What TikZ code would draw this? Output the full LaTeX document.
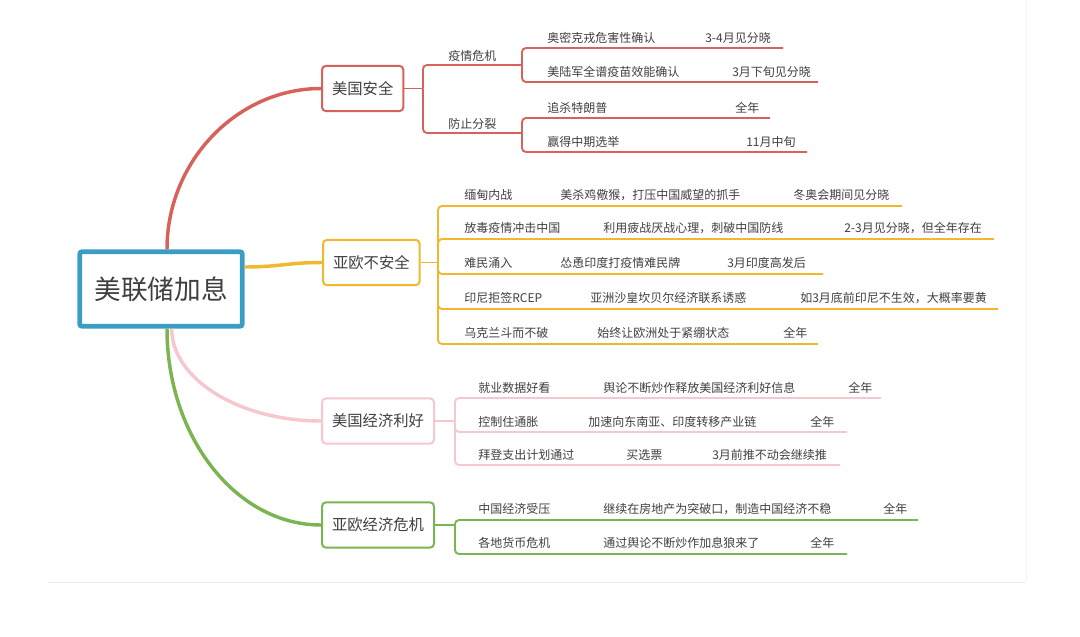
\documentclass[tikz,border=0pt]{standalone}
\usepackage{fontspec}
\setmainfont{Noto Sans CJK SC}
\usepackage{xcolor}
\usepackage{tikz}
\usetikzlibrary{positioning}

\definecolor{hubblue}{HTML}{3A9DC3}
\definecolor{redbr}{HTML}{D6625C}
\definecolor{goldbr}{HTML}{F1B82D}
\definecolor{pinkbr}{HTML}{F5C8CE}
\definecolor{greenbr}{HTML}{7BB552}
\definecolor{txtgray}{HTML}{3F3F3F}

\begin{document}
\begin{tikzpicture}[
  x=0.75pt,
  y=-0.75pt,
  hub/.style={draw=hubblue, line width=3.6pt, rounded corners=2pt, fill=white,
    minimum width=122pt, minimum height=56pt, text=txtgray,
    font=\fontsize{20}{24}\selectfont},
  topic/.style={draw=#1, line width=1.5pt, rounded corners=3pt, fill=white,
    minimum height=34pt, inner xsep=7.5pt, anchor=west, text=txtgray,
    font=\fontsize{11.5}{13}\selectfont},
  leaf/.style={anchor=west, inner sep=0pt, text height=0.88em, text depth=0.12em,
    text=txtgray, font=\fontsize{9}{11}\selectfont},
  branch/.style={draw=#1, line width=2.6pt},
  twig/.style={draw=#1, line width=1.4pt, rounded corners=3pt},
  card/.style={draw=gray!14, line width=0.75pt}
]
  \useasboundingbox (0,0) rectangle (1080,636);
  \draw[card] (48,582) -- (1026,582);
  \draw[card, draw=gray!7] (1026,0) -- (1026,582);

  \node[hub] (hub) at (161,289) {美联储加息};
  \node[topic=redbr] (safe) at (321,88.5) {美国安全};
  \node[topic=goldbr] (unsafe) at (322,262.5) {亚欧不安全};
  \node[topic=pinkbr] (econ) at (321,421) {美国经济利好};
  \node[topic=greenbr] (crisis) at (321,525) {亚欧经济危机};

  \draw[branch=redbr] ([xshift=4.5pt]hub.north) .. controls +(0,-88) and +(-84,0) .. (safe.west);
  \draw[branch=goldbr] ([yshift=16.5pt]hub.east) .. controls +(35,0) and +(-35,0) .. (unsafe.west);
  \draw[branch=pinkbr] ([xshift=8pt]hub.south) .. controls +(0,50) and +(-82,0) .. (econ.west);
  \draw[branch=greenbr] ([xshift=4.5pt]hub.south) .. controls +(0,108) and +(-85,0) .. (crisis.west);

  \coordinate (sj) at (423,88.5);
  \coordinate (sa) at (522,65);
  \coordinate (sb) at (522,133);
  \draw[twig=redbr] (safe.east) -- (sj);
  \draw[twig=redbr] (sj) |- (sa);
  \draw[twig=redbr] (sj) |- (sb);
  \node[leaf] (epid) at (448,55) {疫情危机};
  \node[leaf] (split) at (448,123) {防止分裂};
  \foreach \yl/\ka/\xc/\kc/\xe/\jn [count=\i] in {
    48/奥密克戎危害性确认/705/3-4月见分晓/783/sa,
    82/美陆军全谱疫苗效能确认/732/3月下旬见分晓/818/sa,
    118/追杀特朗普/735/全年/770/sb,
    152/赢得中期选举/746/11月中旬/807/sb} {
    \coordinate (s\i) at (\xe,\yl);
    \draw[twig=redbr] (\jn) |- (s\i);
    \node[leaf] (sx\i) at (547,\yl-11) {\ka};
    \node[leaf] (sy\i) at (\xc,\yl-11) {\kc};
  }

  \coordinate (uj) at (438,262.5);
  \draw[twig=goldbr] (unsafe.east) -- (uj);
  \foreach \yl/\ka/\xb/\kb/\xc/\kc/\xe [count=\i] in {
    206/缅甸内战/560/美杀鸡儆猴，打压中国威望的抓手/793/冬奥会期间见分晓/902,
    239/放毒疫情冲击中国/603/利用疲战厌战心理，刺破中国防线/844/2-3月见分晓，但全年存在/994,
    274/难民涌入/560/怂恿印度打疫情难民牌/727/3月印度高发后/823,
    309/印尼拒签RCEP/590/亚洲沙皇坎贝尔经济联系诱惑/800/如3月底前印尼不生效，大概率要黄/998,
    344/乌克兰斗而不破/597/始终让欧洲处于紧绷状态/783/全年/818} {
    \coordinate (u\i) at (\xe,\yl);
    \draw[twig=goldbr] (uj) |- (u\i);
    \node[leaf] (ua\i) at (464,\yl-12) {\ka};
    \node[leaf] (ub\i) at (\xb,\yl-12) {\kb};
    \node[leaf] (uc\i) at (\xc,\yl-12) {\kc};
  }

  \coordinate (ej) at (455,421);
  \draw[twig=pinkbr] (econ.east) -- (ej);
  \foreach \yl/\ka/\xb/\kb/\xc/\kc/\xe [count=\i] in {
    398/就业数据好看/603/舆论不断炒作释放美国经济利好信息/848/全年/881,
    432/控制住通胀/588/加速向东南亚、印度转移产业链/810/全年/847,
    465/拜登支出计划通过/626/买选票/712/3月前推不动会继续推/840} {
    \coordinate (e\i) at (\xe,\yl);
    \draw[twig=pinkbr] (ej) |- (e\i);
    \node[leaf] (ea\i) at (478,\yl-11) {\ka};
    \node[leaf] (eb\i) at (\xb,\yl-11) {\kb};
    \node[leaf] (ec\i) at (\xc,\yl-11) {\kc};
  }

  \coordinate (cj) at (455,525);
  \draw[twig=greenbr] (crisis.east) -- (cj);
  \foreach \yl/\ka/\xb/\kb/\xc/\kc/\xe [count=\i] in {
    520/中国经济受压/603/继续在房地产为突破口，制造中国经济不稳/883/全年/918,
    554/各地货币危机/603/通过舆论不断炒作加息狼来了/810/全年/847} {
    \coordinate (c\i) at (\xe,\yl);
    \draw[twig=greenbr] (cj) |- (c\i);
    \node[leaf] (ca\i) at (478,\yl-12) {\ka};
    \node[leaf] (cb\i) at (\xb,\yl-12) {\kb};
    \node[leaf] (cc\i) at (\xc,\yl-12) {\kc};
  }
\end{tikzpicture}
\end{document}
